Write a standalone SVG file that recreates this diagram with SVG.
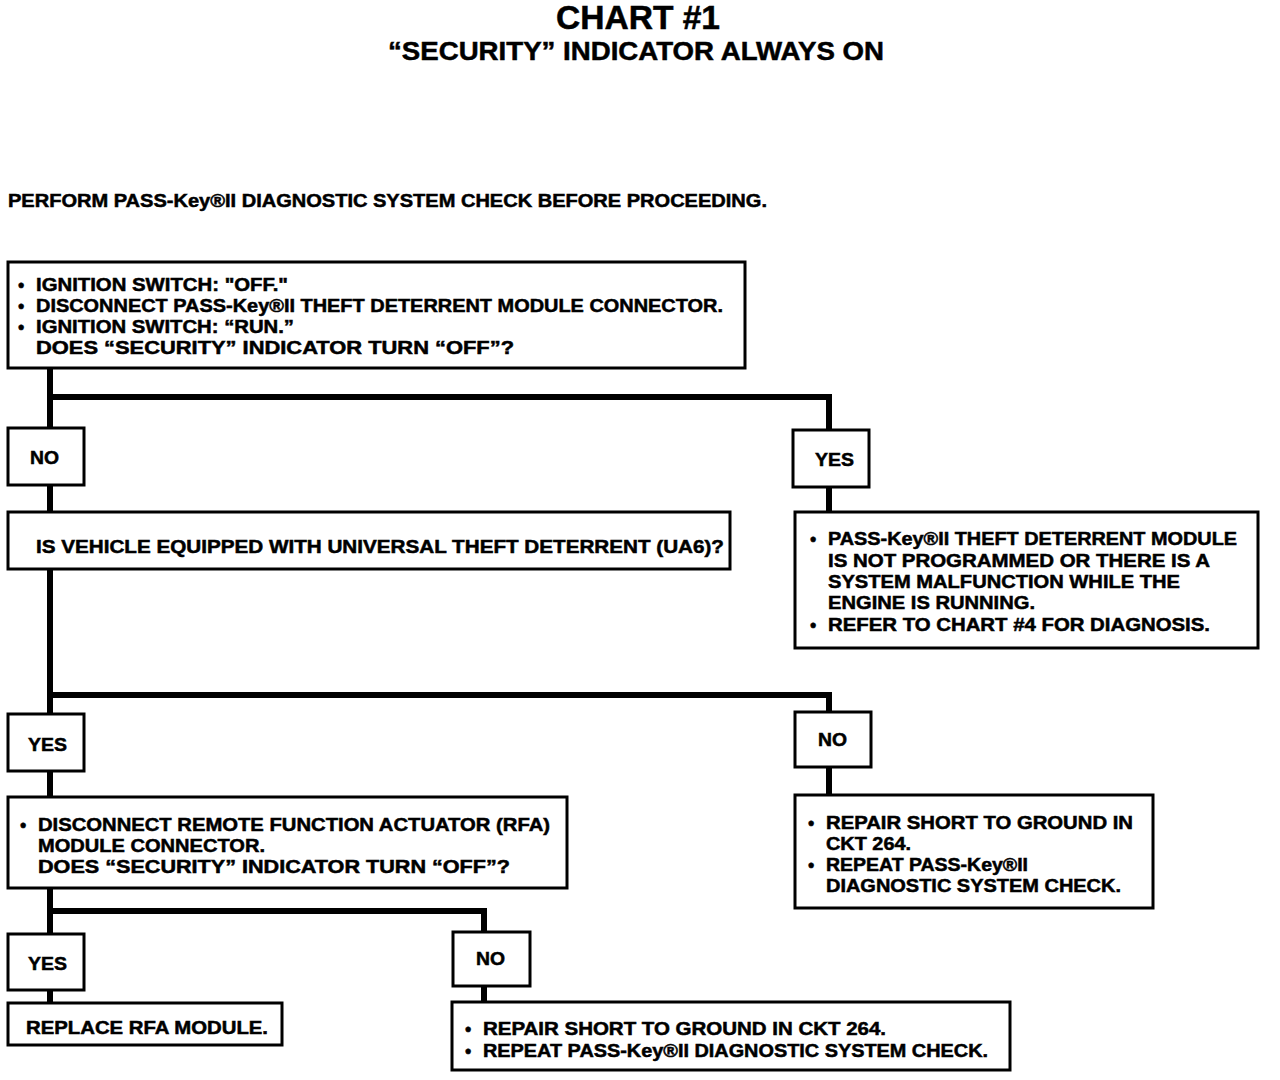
<svg xmlns="http://www.w3.org/2000/svg" width="1280" height="1080" viewBox="0 0 1280 1080">
<style>
.bg{fill:#fff}
.box{fill:#fff;stroke:#000;stroke-width:3}
.wire{fill:none;stroke:#000;stroke-width:6;stroke-linecap:square}
text{font-family:"Liberation Sans",Arial,Helvetica,sans-serif;font-weight:bold;fill:#000;stroke:#000;stroke-width:0.5}
.t{font-size:18px}
.h1{font-size:33px}
.h2{font-size:26px}
</style>
<rect class="bg" x="0" y="0" width="1280" height="1080"/>
<g id="title">
<text class="h1" x="638" y="29" text-anchor="middle" textLength="164" lengthAdjust="spacingAndGlyphs">CHART #1</text>
<text class="h2" x="636" y="60" text-anchor="middle" textLength="496" lengthAdjust="spacingAndGlyphs">“SECURITY” INDICATOR ALWAYS ON</text>
</g>
<g id="intro">
<text class="t" x="8" y="207" textLength="759" lengthAdjust="spacingAndGlyphs">PERFORM PASS-Key®II DIAGNOSTIC SYSTEM CHECK BEFORE PROCEEDING.</text>
</g>
<g id="connectors">
<polyline class="wire" points="50,368 50,428"/>
<polyline class="wire" points="50,397 829,397 829,430"/>
<polyline class="wire" points="50,485 50,512"/>
<polyline class="wire" points="829,487 829,512"/>
<polyline class="wire" points="50,569 50,714"/>
<polyline class="wire" points="50,695 829,695 829,712"/>
<polyline class="wire" points="50,771 50,797"/>
<polyline class="wire" points="829,767 829,795"/>
<polyline class="wire" points="50,888 50,934"/>
<polyline class="wire" points="50,911 484,911 484,932"/>
<polyline class="wire" points="50,990 50,1003"/>
<polyline class="wire" points="484,986 484,1002"/>
</g>
<g id="step1">
<rect class="box" x="8" y="262" width="737" height="106"/>
<text class="t" x="18" y="291">•</text>
<text class="t" x="36" y="291" textLength="252" lengthAdjust="spacingAndGlyphs">IGNITION SWITCH: "OFF."</text>
<text class="t" x="18" y="312">•</text>
<text class="t" x="36" y="312" textLength="687" lengthAdjust="spacingAndGlyphs">DISCONNECT PASS-Key®II THEFT DETERRENT MODULE CONNECTOR.</text>
<text class="t" x="18" y="333">•</text>
<text class="t" x="36" y="333" textLength="258" lengthAdjust="spacingAndGlyphs">IGNITION SWITCH: “RUN.”</text>
<text class="t" x="36" y="354" textLength="478" lengthAdjust="spacingAndGlyphs">DOES “SECURITY” INDICATOR TURN “OFF”?</text>
</g>
<g id="no1">
<rect class="box" x="8" y="428" width="76" height="57"/>
<text class="t" x="30" y="464" textLength="29" lengthAdjust="spacingAndGlyphs">NO</text>
</g>
<g id="yes1">
<rect class="box" x="793" y="430" width="76" height="57"/>
<text class="t" x="815" y="466" textLength="39" lengthAdjust="spacingAndGlyphs">YES</text>
</g>
<g id="step2">
<rect class="box" x="8" y="512" width="722" height="57"/>
<text class="t" x="36" y="553" textLength="688" lengthAdjust="spacingAndGlyphs">IS VEHICLE EQUIPPED WITH UNIVERSAL THEFT DETERRENT (UA6)?</text>
</g>
<g id="result1">
<rect class="box" x="795" y="512" width="463" height="136"/>
<text class="t" x="810" y="545">•</text>
<text class="t" x="828" y="545" textLength="409" lengthAdjust="spacingAndGlyphs">PASS-Key®II THEFT DETERRENT MODULE</text>
<text class="t" x="828" y="567" textLength="382" lengthAdjust="spacingAndGlyphs">IS NOT PROGRAMMED OR THERE IS A</text>
<text class="t" x="828" y="588" textLength="352" lengthAdjust="spacingAndGlyphs">SYSTEM MALFUNCTION WHILE THE</text>
<text class="t" x="828" y="609" textLength="207" lengthAdjust="spacingAndGlyphs">ENGINE IS RUNNING.</text>
<text class="t" x="810" y="631">•</text>
<text class="t" x="828" y="631" textLength="382" lengthAdjust="spacingAndGlyphs">REFER TO CHART #4 FOR DIAGNOSIS.</text>
</g>
<g id="yes2">
<rect class="box" x="8" y="714" width="76" height="57"/>
<text class="t" x="28" y="751" textLength="39" lengthAdjust="spacingAndGlyphs">YES</text>
</g>
<g id="no2">
<rect class="box" x="795" y="712" width="76" height="55"/>
<text class="t" x="818" y="746" textLength="29" lengthAdjust="spacingAndGlyphs">NO</text>
</g>
<g id="step3">
<rect class="box" x="8" y="797" width="559" height="91"/>
<text class="t" x="20" y="831">•</text>
<text class="t" x="38" y="831" textLength="512" lengthAdjust="spacingAndGlyphs">DISCONNECT REMOTE FUNCTION ACTUATOR (RFA)</text>
<text class="t" x="38" y="852" textLength="227" lengthAdjust="spacingAndGlyphs">MODULE CONNECTOR.</text>
<text class="t" x="38" y="873" textLength="472" lengthAdjust="spacingAndGlyphs">DOES “SECURITY” INDICATOR TURN “OFF”?</text>
</g>
<g id="result2">
<rect class="box" x="795" y="795" width="358" height="113"/>
<text class="t" x="808" y="829">•</text>
<text class="t" x="826" y="829" textLength="307" lengthAdjust="spacingAndGlyphs">REPAIR SHORT TO GROUND IN</text>
<text class="t" x="826" y="850" textLength="85" lengthAdjust="spacingAndGlyphs">CKT 264.</text>
<text class="t" x="808" y="871">•</text>
<text class="t" x="826" y="871" textLength="202" lengthAdjust="spacingAndGlyphs">REPEAT PASS-Key®II</text>
<text class="t" x="826" y="892" textLength="295" lengthAdjust="spacingAndGlyphs">DIAGNOSTIC SYSTEM CHECK.</text>
</g>
<g id="yes3">
<rect class="box" x="8" y="934" width="76" height="56"/>
<text class="t" x="28" y="970" textLength="39" lengthAdjust="spacingAndGlyphs">YES</text>
</g>
<g id="no3">
<rect class="box" x="453" y="932" width="77" height="54"/>
<text class="t" x="476" y="965" textLength="29" lengthAdjust="spacingAndGlyphs">NO</text>
</g>
<g id="result3">
<rect class="box" x="8" y="1003" width="274" height="42"/>
<text class="t" x="26" y="1034" textLength="242" lengthAdjust="spacingAndGlyphs">REPLACE RFA MODULE.</text>
</g>
<g id="result4">
<rect class="box" x="452" y="1002" width="558" height="68"/>
<text class="t" x="465" y="1035">•</text>
<text class="t" x="483" y="1035" textLength="403" lengthAdjust="spacingAndGlyphs">REPAIR SHORT TO GROUND IN CKT 264.</text>
<text class="t" x="465" y="1057">•</text>
<text class="t" x="483" y="1057" textLength="505" lengthAdjust="spacingAndGlyphs">REPEAT PASS-Key®II DIAGNOSTIC SYSTEM CHECK.</text>
</g>
</svg>
